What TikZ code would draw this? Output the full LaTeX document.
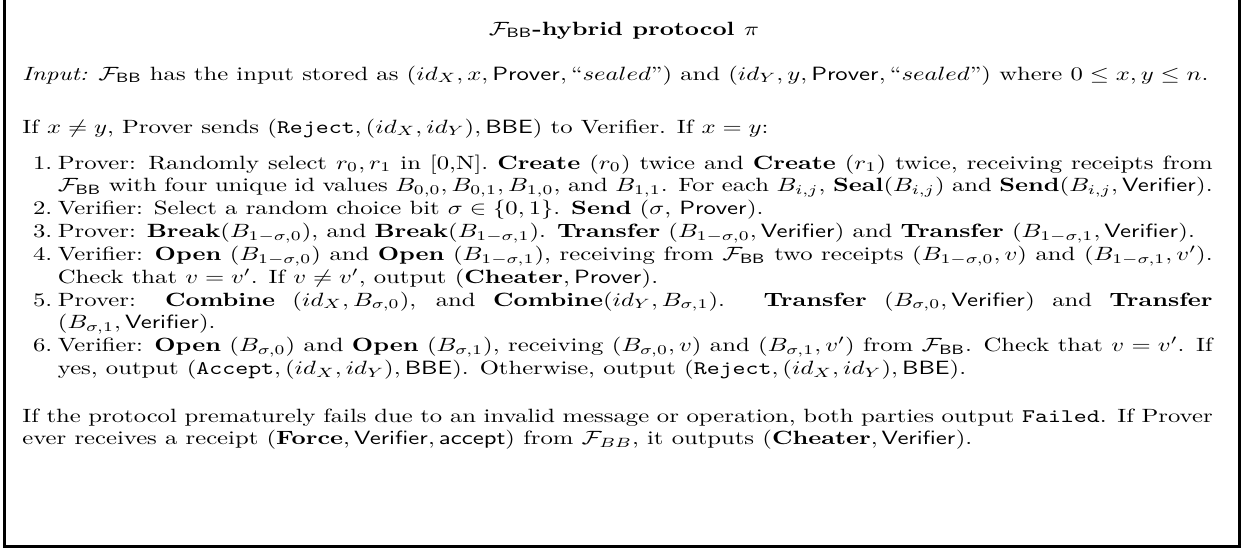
\documentclass[tikz,border=0pt]{standalone}
\usepackage{amsmath,amssymb}
\usepackage{graphicx}
\usepackage{enumitem}
\newcommand\FBB{\mathcal{F}_{\mathsf{BB}}}
\newcommand\PVr{\mathsf{Prover}}
\newcommand\VFr{\mathsf{Verifier}}
\newcommand\BBEx{\mathsf{BBE}}
\newcommand\bodyfont{\fontsize{10pt}{11.9pt}\selectfont\lineskiplimit=-100pt\lineskip=0pt}
\newcommand\wide[1]{\scalebox{1.285}[1]{#1}}
\lineskiplimit=-100pt
\begin{document}
\begin{tikzpicture}[x=0.5209pt,y=-0.5209pt,
  frame/.style={line width=1.6pt},
  para/.style={inner sep=0pt,anchor=base west,font=\bodyfont}]
\useasboundingbox (0,0) rectangle (1244,550);
\draw[frame] (4.5,0) -- (4.5,546.5) -- (1239.5,546.5) -- (1239.5,0);
\node[inner sep=0pt,anchor=base,font=\bodyfont] (title) at (624,35)
  {\wide{\textbf{$\FBB$-hybrid protocol $\pi$}}};
\node[para] (input) at (22,80)
  {\wide{\textit{Input:} $\FBB$ has the input stored as $(id_X, x, \PVr, \text{``}sealed\text{''})$ and $(id_Y, y, \PVr, \text{``}sealed\text{''})$ where $0 \le x, y \le n$.}};
\node[para] (cond) at (22,133)
  {\wide{If $x \neq y$, Prover sends $(\texttt{Reject}, (id_X, id_Y), \BBEx)$ to Verifier. If $x = y$:}};
\node[para] (steps) at (22,169) {\wide{\begin{minipage}[t]{482.5pt}\lineskiplimit=-100pt
\begin{enumerate}[leftmargin=14.4pt,labelsep=2.3pt,itemsep=0pt,parsep=0pt,topsep=0pt,partopsep=0pt]
\item Prover: Randomly select $r_0, r_1$ in [0,N]. \textbf{Create} $(r_0)$ twice and \textbf{Create} $(r_1)$ twice, receiving receipts from\linebreak $\FBB$ with four unique id values $B_{0,0}, B_{0,1}, B_{1,0}$, and $B_{1,1}$. For each $B_{i,j}$, $\textbf{Seal}(B_{i,j})$ and $\textbf{Send}(B_{i,j}, \VFr)$.
\item Verifier: Select a random choice bit $\sigma \in \{0,1\}$. \textbf{Send} ($\sigma$, $\PVr$).
\item Prover: $\textbf{Break}(B_{1-\sigma,0})$, and $\textbf{Break}(B_{1-\sigma,1})$. \textbf{Transfer} $(B_{1-\sigma,0}, \VFr)$ and \textbf{Transfer} $(B_{1-\sigma,1}, \VFr)$.
\item Verifier: \textbf{Open} $(B_{1-\sigma,0})$ and \textbf{Open} $(B_{1-\sigma,1})$, receiving from $\FBB$ two receipts $(B_{1-\sigma,0}, v)$ and $(B_{1-\sigma,1}, v')$.\linebreak Check that $v = v'$. If $v \neq v'$, output $(\textbf{Cheater}, \PVr)$.
\item Prover: \textbf{Combine} $(id_X, B_{\sigma,0})$, and $\textbf{Combine}(id_Y, B_{\sigma,1})$. \textbf{Transfer} $(B_{\sigma,0}, \VFr)$ and \textbf{Transfer}\linebreak $(B_{\sigma,1}, \VFr)$.
\item Verifier: \textbf{Open} $(B_{\sigma,0})$ and \textbf{Open} $(B_{\sigma,1})$, receiving $(B_{\sigma,0}, v)$ and $(B_{\sigma,1}, v')$ from $\FBB$. Check that $v = v'$. If\linebreak yes, output $(\texttt{Accept}, (id_X, id_Y), \BBEx)$. Otherwise, output $(\texttt{Reject}, (id_X, id_Y), \BBEx)$.
\end{enumerate}
\end{minipage}}};
\node[para] (final) at (22,422) {\wide{\begin{minipage}[t]{482.5pt}\lineskiplimit=-100pt
If the protocol prematurely fails due to an invalid message or operation, both parties output \texttt{Failed}. If Prover\linebreak ever receives a receipt $(\textbf{Force}, \VFr, \mathsf{accept})$ from $\mathcal{F}_{BB}$, it outputs $(\textbf{Cheater}, \VFr)$.
\end{minipage}}};
\end{tikzpicture}
\end{document}
